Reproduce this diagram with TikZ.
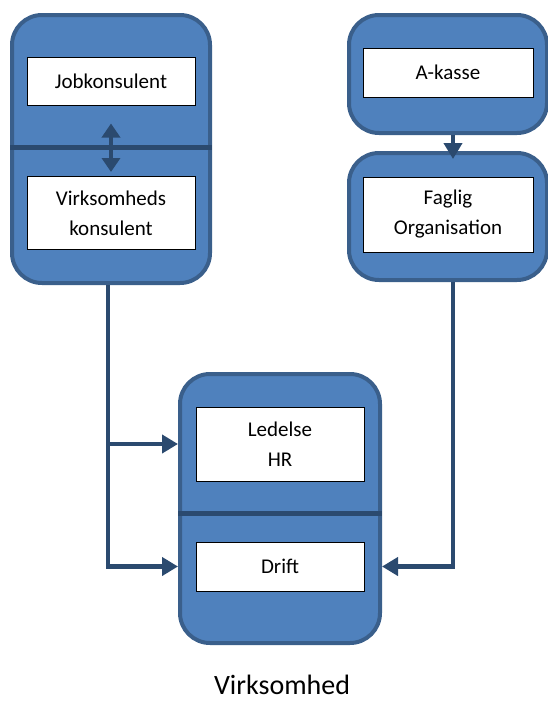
\documentclass[tikz,border=0pt]{standalone}
\usepackage{fontspec}
\setmainfont{Carlito}
\usetikzlibrary{arrows.meta}

\definecolor{unitfill}{HTML}{4F81BD}
\definecolor{unitedge}{HTML}{3A5F8B}
\definecolor{linkdark}{HTML}{2B4A6F}

\tikzset{
    unit/.style={draw=unitedge, fill=unitfill, line width=4pt, rounded corners=30pt},
    role/.style={draw=black, fill=white, line width=1pt, minimum width=168pt, align=center,
        font=\fontsize{21}{30}\selectfont},
    divider/.style={draw=linkdark, line width=5pt},
    link/.style={draw=linkdark, line width=4.5pt, -{Triangle[length=16pt,width=18pt]}},
    dbl/.style={draw=linkdark, line width=4.5pt, {Triangle[length=14pt,width=18pt]}-{Triangle[length=14pt,width=18pt]}}
}

\begin{document}
\begin{tikzpicture}[x=1pt,y=-1pt]
        \useasboundingbox (0,0) rectangle (548,704);

        \node[unit, minimum width=198pt, minimum height=268pt] (job unit) at (111,149) {};
        \node[unit, minimum width=198pt, minimum height=118pt] (akasse unit) at (448,74) {};
        \node[unit, minimum width=198pt, minimum height=127pt] (faglig unit) at (448,216.5) {};
        \node[unit, minimum width=200pt, minimum height=269pt] (firma unit) at (280,508.5) {};

        \draw[divider] (job unit.west |- 0,147) -- (job unit.east |- 0,147);
        \draw[divider] (firma unit.west |- 0,513) -- (firma unit.east |- 0,513);

        \node[role, minimum height=48pt] (job) at (111,81) {Jobkonsulent};
        \node[role, minimum height=73pt] (virk) at (111,213) {Virksomheds\\konsulent};
        \node[role, minimum width=170pt, minimum height=49pt] (akasse) at (448,72.5) {A-kasse};
        \node[role, minimum width=170pt, minimum height=75pt] (faglig) at (448,214.5) {Faglig\\Organisation};
        \node[role, minimum height=74pt] (ledelse) at (280,444) {Ledelse\\HR};
        \node[role, minimum height=49pt] (drift) at (280,566.5) {Drift};

        \draw[dbl] ([yshift=-18pt]job.south) -- ([yshift=4pt]virk.north);
        \draw[link] ([xshift=5pt]akasse unit.south) -- ([xshift=5pt,yshift=-8pt]faglig unit.north);

        \draw[link] ([xshift=-3pt]job unit.south) |- (firma unit.west |- drift);
        \draw[link] ([xshift=-3pt]job unit.south |- ledelse) -- (firma unit.west |- ledelse);
        \draw[link] ([xshift=5pt]faglig unit.south) |- (firma unit.east |- drift);

        \node[font=\fontsize{28}{33}\selectfont, inner sep=0pt] (title) at (282,685) {Virksomhed};
    \end{tikzpicture}
\end{document}
